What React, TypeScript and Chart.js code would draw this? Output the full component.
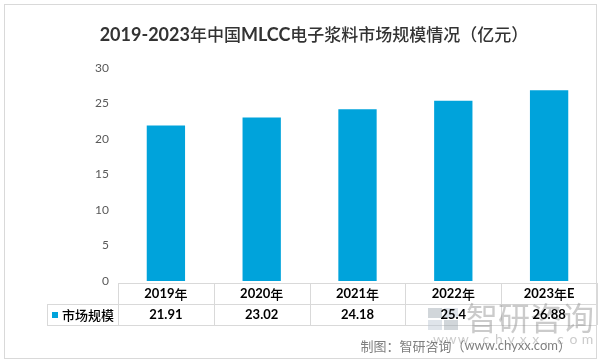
import React, { useEffect, useRef } from "react";
import { Chart, registerables } from "chart.js";

Chart.register(...registerables);

const categories = ["2019年", "2020年", "2021年", "2022年", "2023年E"];
const marketSize = [21.91, 23.02, 24.18, 25.4, 26.88];
const valueLabels = ["21.91", "23.02", "24.18", "25.4", "26.88"];
const seriesLabel = "市场规模";
const yMin = 0;
const yMax = 30;
const yStep = 5;
const titleText = "2019-2023年中国MLCC电子浆料市场规模情况（亿元）";
const sourceText = "制图：智研咨询（www.chyxx.com）";

const BAR_COLOR = "#00A3DB";
const LINE_COLOR = "#D9D9D9";
const LATIN = "Lato, 'Noto Sans', sans-serif";
const CJK = "'Noto Sans CJK SC', sans-serif";

type Seg = { t: string; f: string };

function splitMixed(text: string, latinFont: string, cjkFont: string): Seg[] {
  const segs: Seg[] = [];
  for (const ch of text) {
    const isCjk = /[\u3000-\u9fff\uff00-\uffef]/.test(ch);
    const f = isCjk ? cjkFont : latinFont;
    if (segs.length && segs[segs.length - 1].f === f) segs[segs.length - 1].t += ch;
    else segs.push({ t: ch, f });
  }
  return segs;
}

function drawMixed(ctx: CanvasRenderingContext2D, segs: Seg[], cx: number, y: number, align: "center" | "right" | "left") {
  let total = 0;
  for (const s of segs) {
    ctx.font = s.f;
    total += ctx.measureText(s.t).width;
  }
  let x = align === "center" ? cx - total / 2 : align === "right" ? cx - total : cx;
  ctx.textAlign = "left";
  ctx.textBaseline = "middle";
  for (const s of segs) {
    ctx.font = s.f;
    ctx.fillText(s.t, x, y);
    x += ctx.measureText(s.t).width;
  }
}

const tablePlugin = {
  id: "tablePlugin",
  afterDraw(chart: any) {
    const ctx: CanvasRenderingContext2D = chart.ctx;
    const area = chart.chartArea;
    const n = categories.length;
    const colW = (area.right - area.left) / n;
    const top = area.bottom + 2;
    const rowH = 21;
    const mid = top + rowH;
    const bot = mid + rowH;
    const legendLeft = 47;

    ctx.save();
    // outer border
    ctx.strokeStyle = LINE_COLOR;
    ctx.lineWidth = 1;
    ctx.strokeRect(4.5, 4.5, 592, 354);

    // title
    ctx.fillStyle = "#333333";
    drawMixed(ctx, splitMixed(titleText, `bold 18px ${LATIN}`, `500 17px ${CJK}`), 314, 35, "center");

    // table lines
    ctx.strokeStyle = LINE_COLOR;
    ctx.beginPath();
    ctx.moveTo(area.left, top + 0.5);
    ctx.lineTo(area.right, top + 0.5);
    ctx.moveTo(legendLeft, mid + 0.5);
    ctx.lineTo(area.right, mid + 0.5);
    ctx.moveTo(legendLeft, bot + 0.5);
    ctx.lineTo(area.right, bot + 0.5);
    for (let k = 0; k <= n; k++) {
      const x = Math.round(area.left + k * colW) + 0.5;
      ctx.moveTo(x, top);
      ctx.lineTo(x, bot);
    }
    ctx.moveTo(legendLeft + 0.5, mid);
    ctx.lineTo(legendLeft + 0.5, bot);
    ctx.stroke();

    // watermark
    ctx.save();
    ctx.globalAlpha = 0.45;
    ctx.fillStyle = "#9aa3ad";
    ctx.fillRect(428, 308, 14, 10);
    ctx.fillStyle = "#b8c4d0";
    ctx.fillRect(444, 308, 14, 10);
    ctx.fillRect(428, 320, 14, 10);
    ctx.fillStyle = "#9aa3ad";
    ctx.fillRect(444, 320, 14, 10);
    ctx.fillStyle = "#8c8c8c";
    ctx.font = `32px ${CJK}`;
    ctx.textAlign = "left";
    ctx.textBaseline = "middle";
    ctx.fillText("智研咨询", 466, 318);
    ctx.font = `14px ${LATIN}`;
    const wm = "www.chyxx.com";
    let wx = 433;
    for (const ch of wm) {
      ctx.fillText(ch, wx, 339);
      wx += 12.4;
    }
    ctx.restore();

    // table text
    ctx.fillStyle = "#000000";
    for (let i = 0; i < n; i++) {
      const cx = chart.scales.x.getPixelForValue(i);
      drawMixed(ctx, splitMixed(categories[i], `bold 13px ${LATIN}`, `500 13px ${CJK}`), cx, top + rowH / 2 + 0.5, "center");
      ctx.font = `bold 13px ${LATIN}`;
      ctx.textAlign = "center";
      ctx.textBaseline = "middle";
      ctx.fillText(valueLabels[i], cx, mid + rowH / 2 + 0.5);
    }

    // legend cell
    ctx.fillStyle = BAR_COLOR;
    ctx.fillRect(52, mid + 8, 6, 6);
    ctx.fillStyle = "#000000";
    ctx.font = `500 13px ${CJK}`;
    ctx.textAlign = "left";
    ctx.textBaseline = "middle";
    ctx.fillText(seriesLabel, 62, mid + rowH / 2 + 0.5);

    // source
    ctx.fillStyle = "#7f7f7f";
    drawMixed(ctx, splitMixed(sourceText, `13px ${LATIN}`, `13px ${CJK}`), 571, 346, "right");
    ctx.restore();
  },
};

export default function App() {
  const ref = useRef<HTMLCanvasElement | null>(null);
  useEffect(() => {
    document.body.style.margin = "0";
    const canvas = ref.current;
    if (!canvas) return;
    const chart = new Chart(canvas, {
      type: "bar",
      data: {
        labels: categories,
        datasets: [
          {
            label: seriesLabel,
            data: marketSize,
            backgroundColor: BAR_COLOR,
            borderWidth: 0,
            barPercentage: 0.4,
            categoryPercentage: 1,
          },
        ],
      },
      options: {
        responsive: false,
        animation: false,
        layout: { padding: { top: 68, bottom: 83, left: 0, right: 4 } },
        plugins: {
          legend: { display: false },
          title: { display: false },
          tooltip: { enabled: false },
        },
        scales: {
          x: { display: false },
          y: {
            min: yMin,
            max: yMax,
            ticks: {
              stepSize: yStep,
              padding: 9,
              color: "#595959",
              font: { family: "Lato", size: 12 },
            },
            grid: { display: false, drawTicks: false },
            border: { display: false },
            afterFit: (scale: any) => {
              scale.width = 118;
            },
          },
        },
      },
      plugins: [tablePlugin],
    });
    return () => chart.destroy();
  }, []);
  return (
    <div style={{ width: 601, height: 364, background: "#fff" }}>
      <canvas ref={ref} width={601} height={364} style={{ display: "block" }} />
    </div>
  );
}
